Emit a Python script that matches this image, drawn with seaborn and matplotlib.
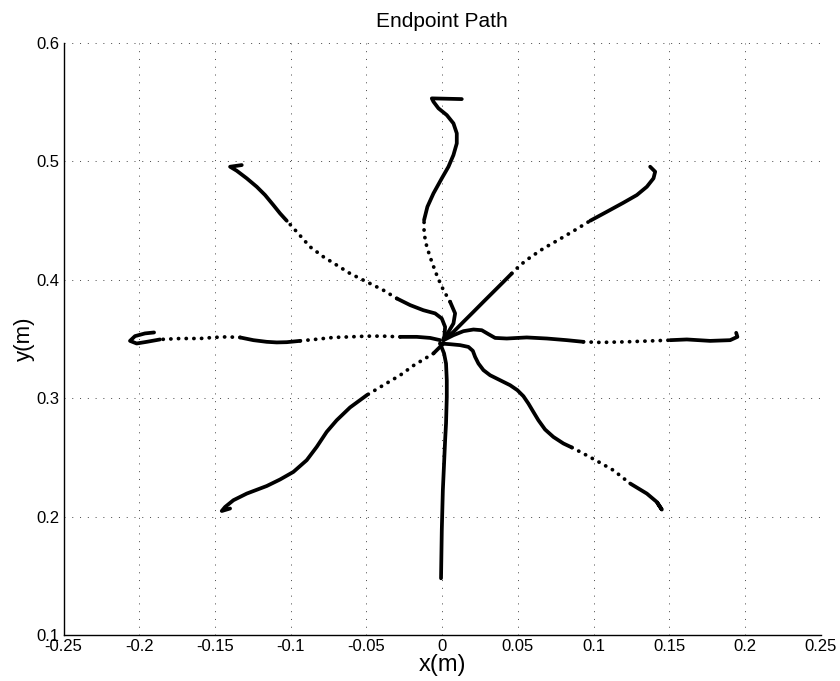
import matplotlib
matplotlib.use("Agg")
import matplotlib.pyplot as plt
import seaborn as sns

# Endpoint trajectories for eight reach directions, each ordered from the
# common start point out to the target (x, y in metres).
north_x = [0.0009, 0.0042, 0.0075, 0.0086, 0.0053, 0.0009, -0.0031, -0.0068,
           -0.0101, -0.0119, -0.0119, -0.0097, -0.0057, -0.0002, 0.0042, 0.0075,
           0.0097, 0.0097, 0.0075, 0.0031, -0.0024, -0.0057, -0.0068, 0.0130]
north_y = [0.3503, 0.3559, 0.3630, 0.3715, 0.3813, 0.3911, 0.4024, 0.4150,
           0.4277, 0.4390, 0.4503, 0.4615, 0.4728, 0.4855, 0.4953, 0.5052,
           0.5150, 0.5235, 0.5319, 0.5389, 0.5446, 0.5502, 0.5530, 0.5524]

northeast_x = [0.0009, 0.0075, 0.0141, 0.0207, 0.0273, 0.0339, 0.0405, 0.0460,
               0.0515, 0.0581, 0.0669, 0.0758, 0.0867, 0.0978, 0.1088, 0.1197,
               0.1286, 0.1352, 0.1396, 0.1407, 0.1374]
northeast_y = [0.3489, 0.3559, 0.3644, 0.3728, 0.3813, 0.3897, 0.3981, 0.4052,
               0.4122, 0.4187, 0.4263, 0.4328, 0.4410, 0.4497, 0.4573, 0.4649,
               0.4714, 0.4784, 0.4855, 0.4911, 0.4953]

east_x = [0.0009, 0.0075, 0.0141, 0.0207, 0.0262, 0.0306, 0.0350, 0.0427,
          0.0559, 0.0692, 0.0824, 0.0933, 0.1044, 0.1220, 0.1506, 0.1616,
          0.1770, 0.1902, 0.1950, 0.1942]
east_y = [0.3489, 0.3531, 0.3565, 0.3579, 0.3573, 0.3540, 0.3508, 0.3503,
          0.3512, 0.3503, 0.3489, 0.3475, 0.3470, 0.3475, 0.3489, 0.3495,
          0.3483, 0.3489, 0.3517, 0.3551]

southeast_x = [-0.0013, 0.0053, 0.0119, 0.0174, 0.0203, 0.0218, 0.0240, 0.0273,
               0.0317, 0.0383, 0.0449, 0.0497, 0.0537, 0.0570, 0.0603, 0.0636,
               0.0680, 0.0735, 0.0801, 0.0857, 0.0933, 0.1022, 0.1131, 0.1242,
               0.1352, 0.1418, 0.1451, 0.1422]
southeast_y = [0.3461, 0.3455, 0.3447, 0.3432, 0.3399, 0.3348, 0.3292, 0.3236,
               0.3193, 0.3151, 0.3109, 0.3067, 0.3016, 0.2954, 0.2883, 0.2813,
               0.2735, 0.2672, 0.2617, 0.2583, 0.2532, 0.2470, 0.2391, 0.2279,
               0.2194, 0.2123, 0.2059, 0.2115]

south_x = [-0.0013, 0.0013, 0.0026, 0.0031, 0.0031, 0.0026, 0.0020, 0.0013,
           0.0005, -0.0002, -0.0007]
south_y = [0.3461, 0.3377, 0.3292, 0.3151, 0.3010, 0.2785, 0.2644, 0.2447,
           0.2222, 0.1884, 0.1479]

southwest_x = [0.0009, -0.0057, -0.0190, -0.0277, -0.0388, -0.0497, -0.0608,
               -0.0696, -0.0762, -0.0828, -0.0894, -0.0982, -0.1070, -0.1158,
               -0.1290, -0.1378, -0.1433, -0.1455, -0.1400]
southwest_y = [0.3461, 0.3377, 0.3274, 0.3193, 0.3109, 0.3025, 0.2921,
               0.2813, 0.2715, 0.2588, 0.2476, 0.2377, 0.2313, 0.2258,
               0.2194, 0.2138, 0.2081, 0.2047, 0.2068]

west_x = [-0.0013, -0.0079, -0.0167, -0.0277, -0.0388, -0.0497, -0.0608, -0.0718,
          -0.0828, -0.0938, -0.1026, -0.1092, -0.1158, -0.1246, -0.1334, -0.1422,
          -0.1510, -0.1598, -0.1730, -0.1863, -0.1950, -0.2017, -0.2061, -0.2028,
          -0.1962, -0.1902]
west_y = [0.3489, 0.3508, 0.3517, 0.3517, 0.3523, 0.3523, 0.3517, 0.3512,
          0.3497, 0.3483, 0.3472, 0.3470, 0.3475, 0.3489, 0.3512, 0.3517,
          0.3512, 0.3503, 0.3503, 0.3495, 0.3475, 0.3461, 0.3483, 0.3523,
          0.3546, 0.3554]

northwest_x = [0.0015, 0.0020, -0.0002, -0.0046, -0.0124, -0.0211, -0.0299,
               -0.0388, -0.0497, -0.0608, -0.0695, -0.0784, -0.0872, -0.0960,
               -0.1026, -0.1070, -0.1114, -0.1169, -0.1224, -0.1290, -0.1356,
               -0.1400, -0.1323]
northwest_y = [0.3517, 0.3601, 0.3672, 0.3715, 0.3742, 0.3785, 0.3841,
               0.3911, 0.3981, 0.4052, 0.4122, 0.4193, 0.4277, 0.4404,
               0.4497, 0.4559, 0.4629, 0.4714, 0.4784, 0.4855, 0.4919,
               0.4953, 0.4967]

x_ticks = [-0.25, -0.2, -0.15, -0.1, -0.05, 0, 0.05, 0.1, 0.15, 0.2, 0.25]
x_tick_labels = ["-0.25", "-0.2", "-0.15", "-0.1", "-0.05", "0",
                 "0.05", "0.1", "0.15", "0.2", "0.25"]
y_ticks = [0.1, 0.2, 0.3, 0.4, 0.5, 0.6]
y_tick_labels = ["0.1", "0.2", "0.3", "0.4", "0.5", "0.6"]

# Each path with the index spans where the hand moved fast (sparse samples).
paths = [
    (north_x, north_y, [(4, 10)]),
    (northeast_x, northeast_y, [(7, 13)]),
    (east_x, east_y, [(11, 14)]),
    (southeast_x, southeast_y, [(19, 23)]),
    (south_x, south_y, []),
    (southwest_x, southwest_y, [(1, 5)]),
    (west_x, west_y, [(3, 9), (14, 19)]),
    (northwest_x, northwest_y, [(6, 14)]),
]

sns.set_style("white")
plt.rcParams["font.family"] = ["Liberation Sans", "DejaVu Sans"]
plt.rcParams["axes.unicode_minus"] = False
plt.rcParams["text.color"] = "black"
plt.rcParams["axes.labelcolor"] = "black"

fig = plt.figure(figsize=(8.4, 6.81), dpi=100)
ax = fig.add_axes([0.0756, 0.0675, 0.9014, 0.8698])


def pieces(n, spans):
    """Split index range 0..n-1 into (start, stop, sparse) runs."""
    out, cur = [], 0
    for a, b in spans:
        if a > cur:
            out.append((cur, a, False))
        out.append((a, b, True))
        cur = b
    if cur < n - 1:
        out.append((cur, n - 1, False))
    return out


LW = 2.7
for xs, ys, spans in paths:
    for i0, i1, sparse in pieces(len(xs), spans):
        style = (0, (0.05, 2.0)) if sparse else "-"
        sns.lineplot(x=xs[i0:i1 + 1], y=ys[i0:i1 + 1], ax=ax, sort=False,
                     estimator=None, color="black", linewidth=LW,
                     linestyle=style, dash_capstyle="round",
                     solid_capstyle="round", solid_joinstyle="round",
                     legend=False)

ax.set_xlim(-0.25, 0.25)
ax.set_ylim(0.1, 0.6)
ax.set_xticks(x_ticks)
ax.set_xticklabels(x_tick_labels)
ax.set_yticks(y_ticks)
ax.set_yticklabels(y_tick_labels)

ax.grid(True, color="#444444", linewidth=0.7, linestyle=(0, (1, 7)))
ax.set_axisbelow(True)

for side in ("top", "right"):
    ax.spines[side].set_visible(False)
for side in ("left", "bottom"):
    ax.spines[side].set_color("black")
    ax.spines[side].set_linewidth(1.0)

ax.tick_params(axis="both", direction="in", length=5, width=0.9,
               colors="black", labelcolor="black", labelsize=12, pad=3)

ax.set_title("Endpoint Path", fontsize=15, pad=11, color="black")
ax.set_xlabel("x(m)", fontsize=17, labelpad=0)
ax.set_ylabel("y(m)", fontsize=16, labelpad=1)

fig.savefig("out.png", dpi=100)
